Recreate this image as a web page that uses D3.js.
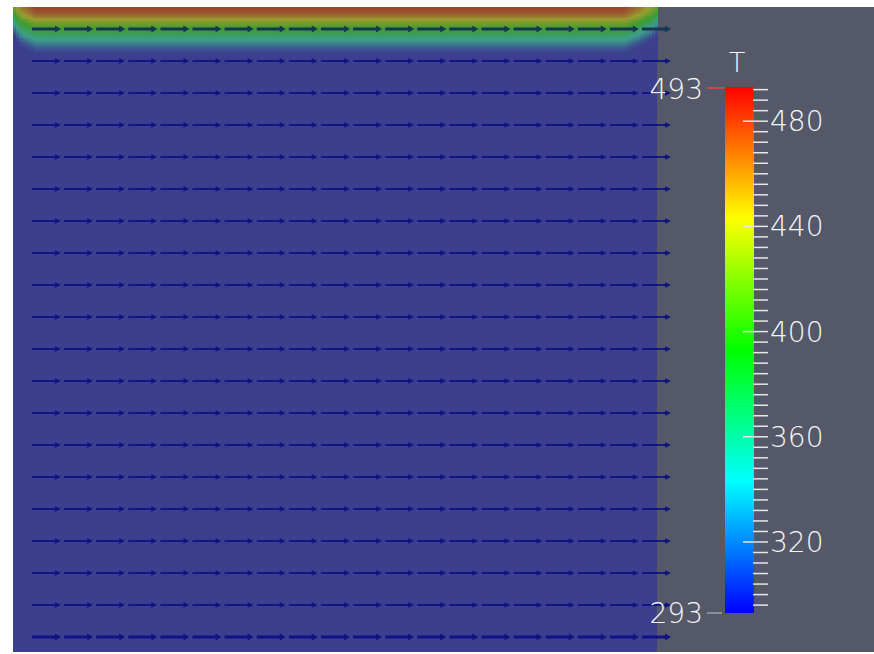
<!DOCTYPE html>
<html>
<head>
<meta charset="utf-8">
<script src="https://cdn.jsdelivr.net/npm/d3@7"></script>
<style>
  html, body { margin: 0; padding: 0; background: #ffffff; }
  svg { display: block; }
  text { font-family: "DejaVu Sans", "Open Sans", sans-serif; font-weight: 200; fill: #f6f6f6; }
</style>
</head>
<body>
<svg id="chart" width="874" height="654"></svg>
<script>
// temperature range of the colour map
const tRange = [293, 493];
const majorTicks = [320, 360, 400, 440, 480];

// temperature profile near the hot top wall (depth in cell units -> T)
const wallDepth = [0, 0.2, 0.3, 0.4, 0.55, 0.7, 0.9, 1.1, 1.3, 1.45];
const wallT     = [493, 478, 462, 442, 415, 390, 362, 332, 304, 293];

// weakening of the wall layer near the two corners (x in cell units)
const edgeX = [0, 0.25, 0.7, 19.0, 19.5, 19.85, 20];
const edgeK = [0.6, 0.85, 1, 1, 0.85, 0.7, 0.6];

// glyph speed per row (top to bottom), all flowing to the right
const rowSpeed = [1, 1, 1, 1, 1, 1, 1, 1, 1, 1, 1, 1, 1, 1, 1, 1, 1, 1, 1, 1];
const nCols = 20;

const svg = d3.select("#chart");

// view frame
const frame = { x0: 13, y0: 7, x1: 874, y1: 652 };
const field = { x0: 13, y0: 7, x1: 657, y1: 652 };

svg.append("rect")
    .attr("x", frame.x0).attr("y", frame.y0)
    .attr("width", frame.x1 - frame.x0).attr("height", frame.y1 - frame.y0)
    .attr("fill", "#545869");

// colour map: blue -> red rainbow
const color = d3.scaleLinear()
    .domain(tRange)
    .range([d3.hsl(240, 1, 0.5), d3.hsl(0, 1, 0.5)])
    .interpolate(d3.interpolateHslLong);

// the surface is drawn semi transparent / dimmed
const dim = c => d3.interpolateRgb(c, "#5f644b")(0.63);

const xField = d3.scaleLinear().domain([0, 20]).range([field.x0, field.x1]);
const yField = d3.scaleLinear().domain([0, 20]).range([field.y0, field.y1]);

const profile = d3.scaleLinear().domain(wallDepth).range(wallT).clamp(true);
const edge = d3.scaleLinear().domain(edgeX).range(edgeK).clamp(true);

const fieldG = svg.append("g").attr("shape-rendering", "crispEdges");

// base field at ambient temperature
fieldG.append("rect")
    .attr("x", field.x0).attr("y", field.y0)
    .attr("width", field.x1 - field.x0).attr("height", field.y1 - field.y0)
    .attr("fill", dim(color(tRange[0])));

// hot layer along the top wall
const cw = 3, ch = 2;
const cells = [];
for (let px = field.x0; px < field.x1; px += cw) {
  for (let py = field.y0; py < field.y0 + 54; py += ch) {
    const ux = xField.invert(px + cw / 2);
    const depth = yField.invert(py + ch / 2);
    const k = edge(ux);
    const t = tRange[0] + (profile(depth / k) - tRange[0]) * k;
    cells.push({ px, py, t });
  }
}
fieldG.selectAll("rect.cell")
    .data(cells)
    .enter().append("rect")
    .attr("class", "cell")
    .attr("x", d => d.px).attr("y", d => d.py)
    .attr("width", cw).attr("height", ch)
    .attr("fill", d => dim(color(d.t)));

// velocity glyphs
const xGlyph = d3.scalePoint().domain(d3.range(nCols)).range([32, 642]);
const yGlyph = d3.scalePoint().domain(d3.range(rowSpeed.length)).range([29, 637]);
const glyphLen = 29;

const glyphs = [];
rowSpeed.forEach((s, j) => {
  d3.range(nCols).forEach(i => glyphs.push({ i, j, s }));
});

const lastRow = rowSpeed.length - 1;
const glyphColor = d => d.j === 0 ? "#143850" : "#101382";
const wall = d => d.j === 0 || d.j === lastRow;

const g = svg.append("g").attr("class", "glyphs");
const arrow = g.selectAll("g")
    .data(glyphs)
    .enter().append("g")
    .attr("transform", d => `translate(${xGlyph(d.i)},${yGlyph(d.j)})`);

arrow.append("line")
    .attr("x1", 0).attr("y1", 0)
    .attr("x2", d => d.s * glyphLen - 3).attr("y2", 0)
    .attr("stroke", glyphColor)
    .attr("stroke-width", d => wall(d) ? 3 : 1.8);

arrow.append("path")
    .attr("d", d => {
      const L = d.s * glyphLen, h = wall(d) ? 3.4 : 2.8;
      return `M${L - 6},${-h}L${L},0L${L - 6},${h}Z`;
    })
    .attr("fill", glyphColor);

// colour bar
const bar = { x: 725, w: 29 };
const yBar = d3.scaleLinear().domain(tRange).range([613, 87]);

const grad = svg.append("defs").append("linearGradient")
    .attr("id", "tgrad")
    .attr("x1", 0).attr("y1", 1).attr("x2", 0).attr("y2", 0);
grad.selectAll("stop")
    .data(d3.range(tRange[0], tRange[1] + 1, 10))
    .enter().append("stop")
    .attr("offset", d => (d - tRange[0]) / (tRange[1] - tRange[0]))
    .attr("stop-color", d => color(d));

svg.append("rect")
    .attr("x", bar.x).attr("y", yBar(tRange[1]))
    .attr("width", bar.w).attr("height", yBar(tRange[0]) - yBar(tRange[1]))
    .attr("fill", "url(#tgrad)");

const minor = d3.range(296, tRange[1], 4).filter(v => !majorTicks.includes(v));
svg.append("g").selectAll("line")
    .data(minor)
    .enter().append("line")
    .attr("x1", bar.x + bar.w - 1).attr("x2", 768)
    .attr("y1", d => yBar(d)).attr("y2", d => yBar(d))
    .attr("stroke", "#e6e6e6").attr("stroke-width", 1.5);

svg.append("g").selectAll("line")
    .data(majorTicks)
    .enter().append("line")
    .attr("x1", 743).attr("x2", 768)
    .attr("y1", d => yBar(d)).attr("y2", d => yBar(d))
    .attr("stroke", "#e6e6e6").attr("stroke-width", 1.5);

svg.append("g").selectAll("text")
    .data(majorTicks)
    .enter().append("text")
    .attr("x", 770).attr("y", d => yBar(d))
    .attr("dy", "0.36em")
    .attr("font-size", 28)
    .text(d => d);

// range annotations
svg.append("line")
    .attr("x1", 707).attr("x2", bar.x)
    .attr("y1", yBar(tRange[1]) + 1).attr("y2", yBar(tRange[1]) + 1)
    .attr("stroke", "#c8484c").attr("stroke-width", 2);
svg.append("line")
    .attr("x1", 707).attr("x2", 722)
    .attr("y1", yBar(tRange[0])).attr("y2", yBar(tRange[0]))
    .attr("stroke", "#9aa0ad").attr("stroke-width", 1.5);

svg.append("text")
    .attr("x", 703).attr("y", yBar(tRange[1]) + 2)
    .attr("dy", "0.36em").attr("text-anchor", "end")
    .attr("font-size", 28)
    .text(tRange[1]);
svg.append("text")
    .attr("x", 703).attr("y", yBar(tRange[0]))
    .attr("dy", "0.36em").attr("text-anchor", "end")
    .attr("font-size", 28)
    .text(tRange[0]);

svg.append("text")
    .attr("x", 737).attr("y", 72)
    .attr("text-anchor", "middle")
    .attr("font-size", 27)
    .text("T");
</script>
</body>
</html>
